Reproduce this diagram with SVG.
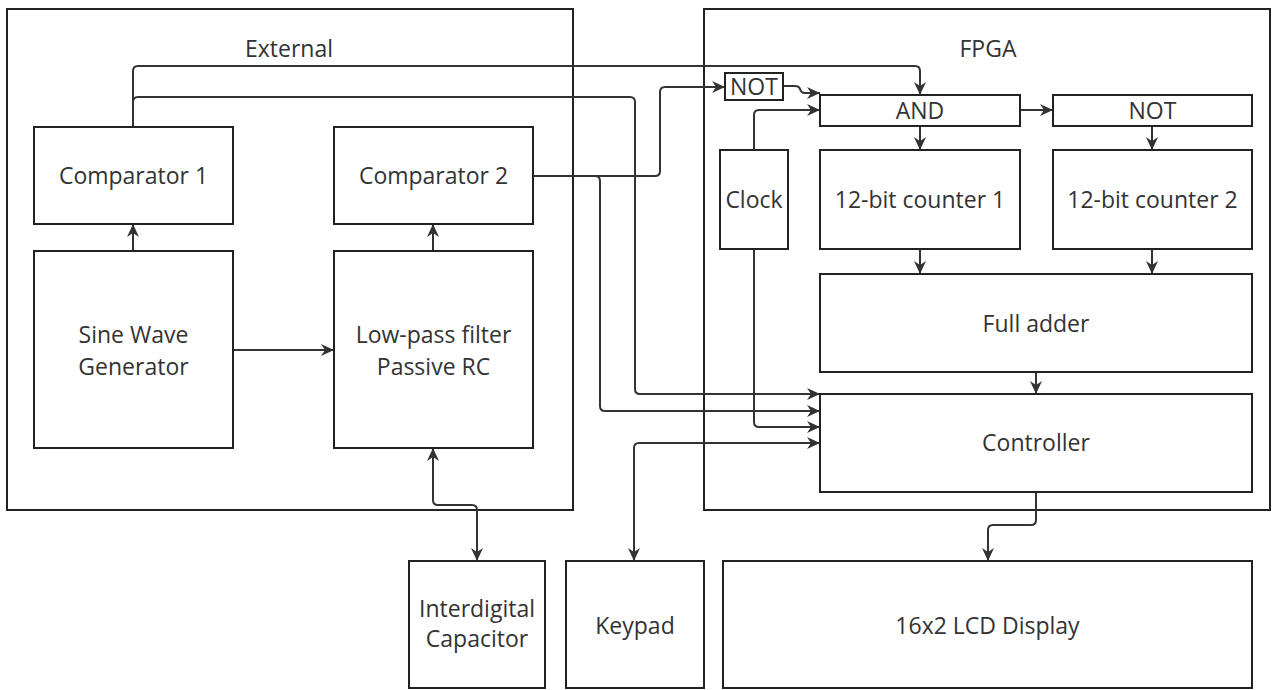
<svg xmlns="http://www.w3.org/2000/svg" width="1280" height="690" viewBox="0 0 1280 690">
<style>
.box{fill:#fff;stroke:#222;stroke-width:2}
.cont{fill:none;stroke:#222;stroke-width:2}
.t{font-family:"Open Sans","Noto Sans",sans-serif;font-size:23px;fill:#333;text-anchor:middle}
.e{fill:none;stroke:#333;stroke-width:2;marker-end:url(#arr)}
.b{marker-start:url(#arr)}
</style>
<defs>
<marker id="arr" markerUnits="userSpaceOnUse" markerWidth="14" markerHeight="14" viewBox="0 0 14 14" refX="13" refY="7" orient="auto-start-reverse">
<path d="M0,1 L13,7 L0,13 L4,7 z" fill="#333"/>
</marker>
</defs>
<rect width="1280" height="690" fill="#fff"/>
<g id="external">
<rect class="cont" x="7" y="9" width="566" height="501"/>
<text class="t" x="289" y="57">External</text>
</g>
<g id="fpga">
<rect class="cont" x="704" y="9" width="566" height="501"/>
<text class="t" x="988" y="57">FPGA</text>
</g>
<g id="connectors">
<path class="e" d="M133,127 V71 Q133,66 138,66 H915 Q920,66 920,71 V95"/>
<path class="e" d="M133,127 V102 Q133,97 138,97 H630 Q635,97 635,102 V389 Q635,394 640,394 H820"/>
<path class="e" d="M533,176 H655 Q660,176 660,171 V92 Q660,87 665,87 H725"/>
<path class="e" d="M533,176 H595 Q600,176 600,181 V406 Q600,411 605,411 H820"/>
<path class="e" d="M783,86 H795 Q799,86 800,89 Q801,93 805,93 H820"/>
<path class="e" d="M754,150 V115 Q754,110 759,110 H820"/>
<path class="e" d="M754,249 V422 Q754,427 759,427 H820"/>
<path class="e b" d="M634,561 V448 Q634,443 639,443 H820"/>
<path class="e b" d="M433,448 V500 Q433,505 438,505 H472 Q477,505 477,510 V561"/>
<path class="e" d="M1036,492 V520 Q1036,525 1031,525 H993 Q988,525 988,530 V561"/>
<path class="e" d="M1020,110 H1053"/>
<path class="e" d="M920,126 V150"/>
<path class="e" d="M1152,126 V150"/>
<path class="e" d="M920,249 V274"/>
<path class="e" d="M1152,249 V274"/>
<path class="e" d="M1036,372 V394"/>
<path class="e" d="M233,350 H334"/>
<path class="e" d="M133,251 V224"/>
<path class="e" d="M433,251 V224"/>
</g>
<g id="comparator1"><rect class="box" x="34" y="127" width="199" height="97"/><text class="t" x="133.5" y="184">Comparator 1</text></g>
<g id="comparator2"><rect class="box" x="334" y="127" width="199" height="97"/><text class="t" x="433.5" y="184">Comparator 2</text></g>
<g id="sine"><rect class="box" x="34" y="251" width="199" height="197"/><text class="t" x="133.5" y="343">Sine Wave</text><text class="t" x="133.5" y="375">Generator</text></g>
<g id="lpf"><rect class="box" x="334" y="251" width="199" height="197"/><text class="t" x="433.5" y="343">Low-pass filter</text><text class="t" x="433.5" y="375">Passive RC</text></g>
<g id="not1"><rect class="box" x="725" y="73" width="58" height="27"/><text class="t" x="754" y="95">NOT</text></g>
<g id="and"><rect class="box" x="820" y="95" width="200" height="31"/><text class="t" x="920" y="119">AND</text></g>
<g id="not2"><rect class="box" x="1053" y="95" width="199" height="31"/><text class="t" x="1152.5" y="119">NOT</text></g>
<g id="clock"><rect class="box" x="720" y="150" width="68" height="99"/><text class="t" x="754" y="208">Clock</text></g>
<g id="counter1"><rect class="box" x="820" y="150" width="200" height="99"/><text class="t" x="920" y="208">12-bit counter 1</text></g>
<g id="counter2"><rect class="box" x="1053" y="150" width="199" height="99"/><text class="t" x="1152.5" y="208">12-bit counter 2</text></g>
<g id="adder"><rect class="box" x="820" y="274" width="432" height="98"/><text class="t" x="1036" y="332">Full adder</text></g>
<g id="controller"><rect class="box" x="820" y="394" width="432" height="98"/><text class="t" x="1036" y="451">Controller</text></g>
<g id="capacitor"><rect class="box" x="409" y="561" width="136" height="127"/><text class="t" x="477" y="617">Interdigital</text><text class="t" x="477" y="647">Capacitor</text></g>
<g id="keypad"><rect class="box" x="566" y="561" width="138" height="127"/><text class="t" x="635" y="634">Keypad</text></g>
<g id="lcd"><rect class="box" x="723" y="561" width="529" height="127"/><text class="t" x="987.5" y="634">16x2 LCD Display</text></g>
</svg>
